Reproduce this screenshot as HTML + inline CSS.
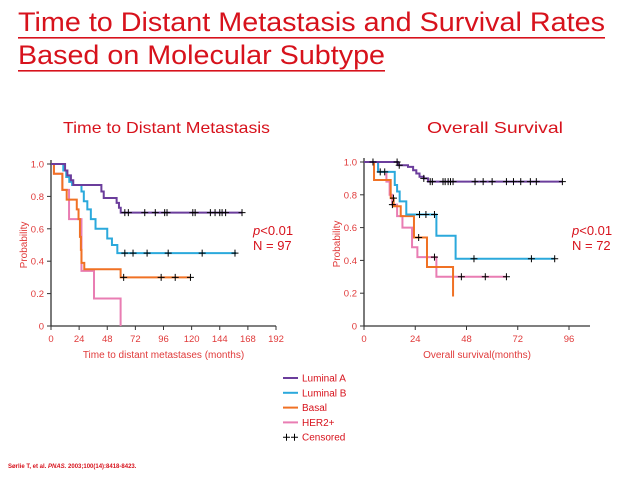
<!DOCTYPE html>
<html><head><meta charset="utf-8"><style>
html,body{margin:0;padding:0;background:#fff;}
svg{display:block;}
</style></head><body>
<svg id="root" width="638" height="479" viewBox="0 0 638 479" xmlns="http://www.w3.org/2000/svg" font-family="Liberation Sans, sans-serif">
<g fill="#d7121c">
<text x="18" y="31" font-size="27" textLength="587" lengthAdjust="spacingAndGlyphs">Time to Distant Metastasis and Survival Rates</text>
<rect x="18" y="37" width="587" height="1.6"/>
<text x="18" y="64" font-size="27" textLength="367" lengthAdjust="spacingAndGlyphs">Based on Molecular Subtype</text>
<rect x="18" y="70" width="367" height="1.6"/>
</g>
<text x="63" y="133" font-size="16" fill="#d7121c" textLength="207" lengthAdjust="spacingAndGlyphs">Time to Distant Metastasis</text>
<text x="427" y="133" font-size="16" fill="#d7121c" textLength="136" lengthAdjust="spacingAndGlyphs">Overall Survival</text>
<g id="left"></g>
<g id="right"></g>
<g fill="#d7121c" font-size="13">
<text x="253" y="235"><tspan font-style="italic">p</tspan>&lt;0.01</text>
<text x="253" y="250">N = 97</text>
</g>
<g fill="#d7121c" font-size="13">
<text x="572" y="235"><tspan font-style="italic">p</tspan>&lt;0.01</text>
<text x="572" y="250">N = 72</text>
</g>
<g id="legend"></g>
<text x="8" y="468" font-size="6" fill="#d7121c" font-weight="bold">Sørlie T, et al. <tspan font-style="italic">PNAS.</tspan> 2003;100(14):8418-8423.</text>
</svg>
<script>
const NS="http://www.w3.org/2000/svg";
const seriesNames=["Luminal A","Luminal B","Basal","HER2+"];
const seriesColors=["#6b3d9c","#2ba9dc","#f07124","#e97db3"];
// Left chart: drop times (months) and resulting probabilities, end time, censor times
const leftTimes=[[12,14,17,19,43,45,56,58,59.5],[10.5,13,15.6,18,26,28,31,34,38,48,52,56.6],[2.5,9.7,13.4,22,23.5,24.7,25.5,26,28.4,59.4],[2.5,9.7,15.4,26,36.7,59.4]];
const leftProbs=[[0.96,0.93,0.90,0.87,0.83,0.79,0.76,0.73,0.70],[0.96,0.92,0.89,0.87,0.83,0.77,0.72,0.66,0.60,0.54,0.50,0.45],[0.94,0.84,0.78,0.72,0.66,0.55,0.47,0.39,0.35,0.30],[0.94,0.84,0.66,0.34,0.17,0]];
const leftEnd=[163.5,158,119.5,59.4];
const leftCensor=[[63,66,80,89,97,99,121,123,136,140,144,146,149,163],[63,70,82,100,129,157],[62,94,106,119],[]];
const leftXTicks=[0,24,48,72,96,120,144,168,192];
const yTicks=[0,0.2,0.4,0.6,0.8,1.0];
// Right chart
const rightTimes=[[16,20.6,23,24.5,26,28,30],[6.6,14.4,15.5,16.7,19.8,33.9,42.9],[4.7,12.5,13.9,17.2,23.4,29.5,41.7],[6.6,10.5,12,13.2,15.5,18,22.5,25,33.9]];
const rightProbs=[[0.98,0.97,0.95,0.93,0.91,0.90,0.88],[0.94,0.86,0.82,0.76,0.68,0.55,0.41],[0.89,0.78,0.73,0.67,0.54,0.36,0.18],[0.94,0.88,0.80,0.74,0.67,0.60,0.48,0.42,0.30]];
const rightEnd=[92.9,89.3,41.7,66.7];
const rightCensor=[[4.2,15.5,16.5,28,31,32,37,38,39.4,40.5,41.7,52,55.8,60,66.7,70,73.4,77.9,80.7,92.9],[7.6,9.7,26,29,33,51.5,78.4,89.3],[13.8,25.6],[13.3,33,45.6,56.8,66.7]];
const rightXTicks=[0,24,48,72,96];

function el(tag,attrs,parent){const e=document.createElementNS(NS,tag);for(const k in attrs)e.setAttribute(k,attrs[k]);parent.appendChild(e);return e;}
function stepVal(times,probs,t){let p=1;for(let i=0;i<times.length;i++){if(times[i]<=t)p=probs[i];}return p;}

function drawChart(g,cfg){
  const X=v=>cfg.x0+(v-cfg.xmin)/(cfg.xmax-cfg.xmin)*(cfg.x1-cfg.x0);
  const Y=v=>cfg.y0-v*(cfg.y0-cfg.y1);
  const red="#e03a3a";
  // axes
  const ax=el("path",{d:`M${X(0)},${Y(1)-4}V${Y(0)}H${cfg.axisEnd}`,stroke:"#333",fill:"none","stroke-width":1.3},g);
  
  
  yTicks.forEach(v=>{
    el("line",{x1:X(0)-4,x2:X(0),y1:Y(v),y2:Y(v),stroke:"#333"},g);
    const t=el("text",{x:X(0)-7,y:Y(v)+3.5,"font-size":9.5,fill:red,"text-anchor":"end"},g);
    t.textContent=v===0?"0":v.toFixed(1);
    
    
  });
  cfg.xticks.forEach(v=>{
    el("line",{x1:X(v),x2:X(v),y1:Y(0),y2:Y(0)+4,stroke:"#333"},g);
    const t=el("text",{x:X(v),y:Y(0)+16,"font-size":9.5,fill:red,"text-anchor":"middle"},g);
    t.textContent=v;
    
    
  });
  const xt=el("text",{x:(X(cfg.xmin)+cfg.axisEnd)/2,y:Y(0)+32,"font-size":10,fill:red,"text-anchor":"middle"},g);
  xt.textContent=cfg.xtitle;
  
  
  const yt=el("text",{x:0,y:0,"font-size":10,fill:red,"text-anchor":"middle",transform:`translate(${X(0)-24},${Y(0.5)}) rotate(-90)`},g);
  yt.textContent="Probability";
  
  
  // series
  for(let s=cfg.times.length-1;s>=0;s--){
    const times=cfg.times[s],probs=cfg.probs[s];
    let d=`M${X(0)},${Y(1)}`;let p=1;
    times.forEach((t,i)=>{d+=`H${X(t)}V${Y(probs[i])}`;p=probs[i];});
    d+=`H${X(cfg.end[s])}`;
    const path=el("path",{d:d,stroke:seriesColors[s],fill:"none","stroke-width":2},g);
    
    
  }
  for(let s=0;s<cfg.times.length;s++){
    cfg.censor[s].forEach(t=>{
      const v=stepVal(cfg.times[s],cfg.probs[s],t);
      const c=el("path",{d:`M${X(t)-3.5},${Y(v)}h7M${X(t)},${Y(v)-3.5}v7`,stroke:"#000","stroke-width":1},g);
      
      
    });
  }
}
drawChart(document.getElementById("left"),{x0:51,x1:276,xmin:0,xmax:192,y0:326,y1:164,axisEnd:276,xticks:leftXTicks,xtitle:"Time to distant metastases (months)",times:leftTimes,probs:leftProbs,end:leftEnd,censor:leftCensor});
drawChart(document.getElementById("right"),{x0:364,x1:569,xmin:0,xmax:96,y0:326,y1:162,axisEnd:590,xticks:rightXTicks,xtitle:"Overall survival(months)",times:rightTimes,probs:rightProbs,end:rightEnd,censor:rightCensor});
// legend
const lg=document.getElementById("legend");
const legendLabels=seriesNames.concat(["Censored"]);
legendLabels.forEach((n,i)=>{
  const y=378+i*14.8;
  const g=el("g",{},lg);
  
  
  if(i<4) el("line",{x1:283,x2:298,y1:y,y2:y,stroke:seriesColors[i],"stroke-width":2},g);
  else el("path",{d:`M283,${y}h7M286.5,${y-3.5}v7M291,${y}h7M294.5,${y-3.5}v7`,stroke:"#000","stroke-width":1},g);
  const t=el("text",{x:302,y:y+3.5,"font-size":10,fill:"#d7121c"},g);
  t.textContent=n;
});
</script>
</body></html>
